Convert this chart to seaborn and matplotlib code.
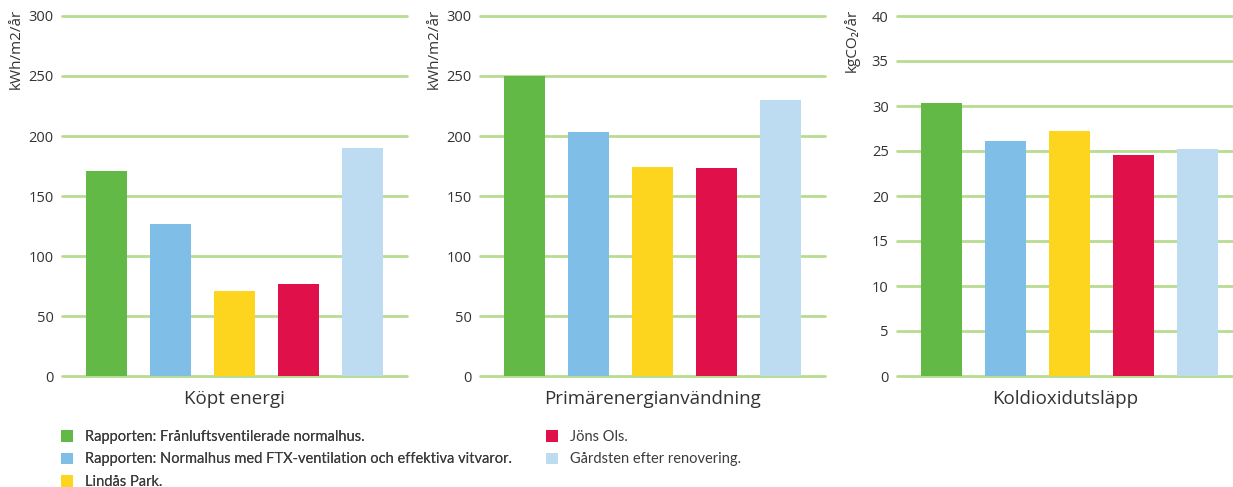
import pandas as pd
import seaborn as sns
import matplotlib.pyplot as plt
from matplotlib.patches import Patch

# --- data ---
categories = [
    'Rapporten: Frånluftsventilerade normalhus.',
    'Rapporten: Normalhus med FTX-ventilation och effektiva vitvaror.',
    'Lindås Park.',
    'Jöns Ols.',
    'Gårdsten efter renovering.',
]
colors = ['#62b946', '#7fbee6', '#fdd41e', '#e0114a', '#bddcf2']

kopt_energi = [171, 127, 71, 77, 190]
primarenergi = [250, 203, 174, 173, 230]
koldioxid = [30.3, 26.1, 27.2, 24.6, 25.2]

panel_titles = ['Köpt energi', 'Primärenergianvändning', 'Koldioxidutsläpp']
panel_units = ['kWh/m2/år', 'kWh/m2/år', 'kgCO\u2082/år']
panel_ticks = [list(range(0, 301, 50)), list(range(0, 301, 50)), list(range(0, 41, 5))]

sns.set_theme(style="white")
plt.rcParams['font.family'] = ['Open Sans', 'DejaVu Sans']
text_color = '#333333'
grid_color = '#b8dd90'

fig = plt.figure(figsize=(12.33, 4.87), dpi=100)
W, H = 1233, 487
bottom = 1 - 376 / H
height = (376 - 16) / H
lefts = [62, 480, 897]
widths = [345, 345, 336]

for i, vals in enumerate([kopt_energi, primarenergi, koldioxid]):
    ax = fig.add_axes([lefts[i] / W, bottom, widths[i] / W, height])
    df = pd.DataFrame({'kategori': categories, 'varde': vals})
    ticks = panel_ticks[i]
    for t in ticks:
        ax.axhline(t, color=grid_color, lw=2, zorder=0, clip_on=False)
    sns.barplot(data=df, x='kategori', y='varde', hue='kategori',
                palette=colors, order=categories, hue_order=categories,
                width=0.64, saturation=1, legend=False, ax=ax, zorder=2,
                linewidth=0)
    ax.set_ylim(0, ticks[-1])
    ax.set_xlim(-0.695, -0.695 + widths[i] / 64)
    ax.set_yticks(ticks)
    ax.set_yticklabels([str(t) for t in ticks], fontsize=10.5, color=text_color)
    ax.tick_params(axis='y', length=0, pad=6)
    ax.tick_params(axis='x', length=0)
    ax.set_xticks([])
    ax.set_xlabel(panel_titles[i], fontsize=13.5, color=text_color, labelpad=10)
    ax.set_ylabel(panel_units[i], fontsize=11, color=text_color)
    ax.yaxis.set_label_coords(-0.11, 1.02)
    ax.yaxis.label.set_verticalalignment('bottom')
    ax.yaxis.label.set_horizontalalignment('right')
    for s in ax.spines.values():
        s.set_visible(False)
    ax.grid(False)
    ax.patch.set_alpha(0)

# --- legend in two columns ---
handles = [Patch(facecolor=c, edgecolor='none') for c in colors]
leg_kw = dict(frameon=False, handlelength=0.85, handleheight=0.85,
              handletextpad=0.8, labelspacing=0.58, borderaxespad=0, borderpad=0,
              labelcolor='#3c3c3c',
              prop={'family': ['Lato', 'Open Sans'], 'size': 10.5})
leg1 = fig.legend(handles[:3], categories[:3], loc='upper left',
                  bbox_to_anchor=(61 / W, 1 - 430 / H), **leg_kw)
fig.add_artist(leg1)
fig.legend(handles[3:], categories[3:], loc='upper left',
           bbox_to_anchor=(546 / W, 1 - 430 / H), **leg_kw)

plt.savefig('out.png', dpi=100)
